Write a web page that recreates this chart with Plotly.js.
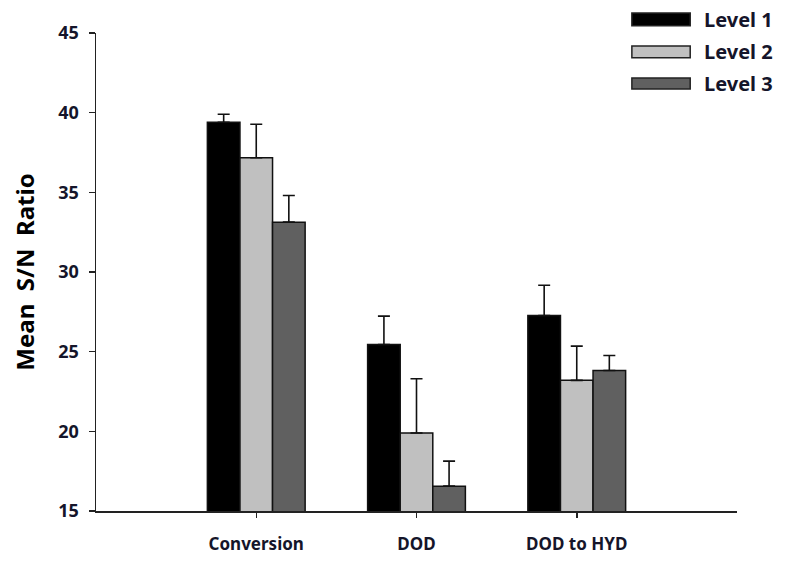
<!DOCTYPE html>
<html>
<head>
<meta charset="utf-8">
<script src="https://cdn.plot.ly/plotly-3.0.1.min.js"></script>
<style>html,body{margin:0;padding:0;background:#fff;}#chart{width:785px;height:561px;}</style>
</head>
<body>
<div id="chart"></div>
<script>
var categories = ["Conversion", "DOD", "DOD to HYD"];
var seriesNames = ["Level 1", "Level 2", "Level 3"];
var level1 = [39.4, 25.45, 27.27];
var level2 = [37.17, 19.9, 23.2];
var level3 = [33.13, 16.56, 23.82];
var err1 = [0.5, 1.78, 1.9];
var err2 = [2.1, 3.4, 2.15];
var err3 = [1.67, 1.57, 0.94];
var yTicks = [15, 20, 25, 30, 35, 40, 45];

var colors = ["#000000", "#c0c0c0", "#606060"];
var values = [level1, level2, level3];
var errs = [err1, err2, err3];

var txtFont = {family: "Noto Sans, Open Sans, sans-serif", color: "#15152a"};

var traces = values.map(function (v, i) {
  return {
    type: "bar",
    name: seriesNames[i],
    x: [0, 1, 2],
    y: v,
    marker: {color: colors[i], line: {color: "#111", width: 1.5}},
    error_y: {type: "data", array: errs[i], arrayminus: errs[i].map(function(){return 0;}), symmetric: false,
              color: "#111", thickness: 1.6, width: 6},
    showlegend: false,
    hoverinfo: "skip"
  };
});

var shapes = [];
var annotations = [];
var legY = [[1.015, 1.042], [0.948, 0.973], [0.883, 0.906]];
for (var i = 0; i < 3; i++) {
  shapes.push({type: "rect", xref: "paper", yref: "paper", x0: 0.836, x1: 0.927,
               y0: legY[i][0], y1: legY[i][1], fillcolor: colors[i], line: {color: "#222", width: 1.5}});
  annotations.push({xref: "paper", yref: "paper", x: 0.945, y: (legY[i][0] + legY[i][1]) / 2,
                    xanchor: "left", yanchor: "middle", showarrow: false, text: seriesNames[i],
                    font: {family: txtFont.family, color: txtFont.color, size: 20, weight: "bold"}});
}

var layout = {
  width: 785, height: 561,
  margin: {l: 96, r: 48, t: 33, b: 49.5, pad: 0},
  paper_bgcolor: "#fff", plot_bgcolor: "#fff",
  barmode: "group", bargap: 0.39, bargroupgap: 0,
  showlegend: false,
  xaxis: {
    range: [-1, 3],
    tickmode: "array", tickvals: [0, 1, 2], ticktext: categories,
    ticks: "outside", ticklen: 5, tickwidth: 1.5, tickcolor: "#222",
    ticklabelstandoff: 12,
    showline: true, linecolor: "#222", linewidth: 1.5, showgrid: false, zeroline: false,
    tickfont: {family: txtFont.family, color: txtFont.color, size: 17, weight: "bold"},
    fixedrange: true
  },
  yaxis: {
    range: [15, 45],
    tickmode: "array", tickvals: yTicks,
    ticks: "outside", ticklen: 6, tickwidth: 1.5, tickcolor: "#222",
    ticklabelstandoff: 6,
    showline: true, linecolor: "#222", linewidth: 1.5, showgrid: false, zeroline: false,
    tickfont: {family: txtFont.family, color: txtFont.color, size: 18, weight: "bold"},
    title: {text: "Mean  S/N  Ratio", standoff: 17,
            font: {family: txtFont.family, color: "#000", size: 24, weight: "bold"}},
    fixedrange: true
  },
  shapes: shapes,
  annotations: annotations
};

Plotly.newPlot("chart", traces, layout, {displayModeBar: false, staticPlot: true});
</script>
</body>
</html>
